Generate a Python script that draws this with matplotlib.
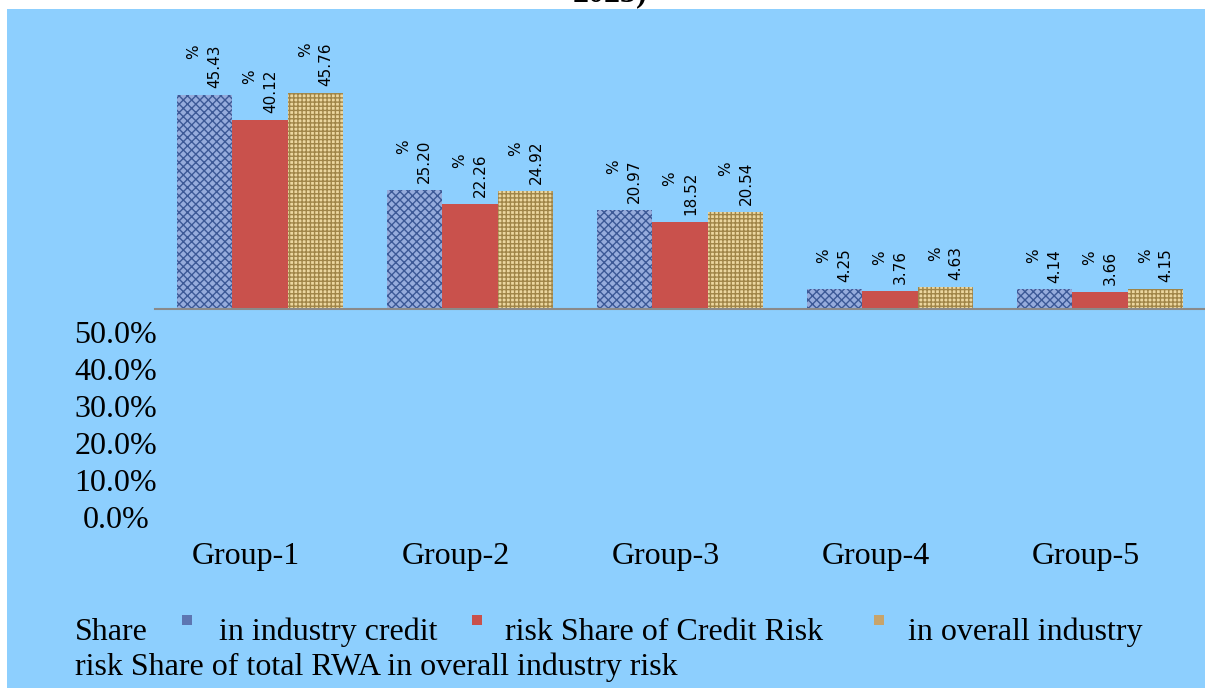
import matplotlib
matplotlib.use("Agg")
import matplotlib.pyplot as plt
import numpy as np
from matplotlib.patches import Rectangle

# data
groups = ["Group-1", "Group-2", "Group-3", "Group-4", "Group-5"]
credit_share = [45.43, 25.20, 20.97, 4.25, 4.14]
credit_risk_share = [40.12, 22.26, 18.52, 3.76, 3.66]
rwa_share = [45.76, 24.92, 20.54, 4.63, 4.15]
axis_labels = ["50.0%", "40.0%", "30.0%", "20.0%", "10.0%", "0.0%"]

W, H = 1205, 688
BG = "#8dcffe"
SERIF = "Liberation Serif"
FS = 23


def px(x, y):
    """pixel (from top-left) -> figure fraction"""
    return x / W, 1 - y / H


plt.rcParams["hatch.linewidth"] = 1.0

fig = plt.figure(figsize=(W / 100, H / 100), dpi=100, facecolor="white")
fig.patches.append(Rectangle((7 / W, 0), 1, (H - 9) / H, transform=fig.transFigure,
                             facecolor=BG, edgecolor="none", zorder=-5))

# cut off title at top
fig.text(*px(610, 1), "2023)", ha="center", va="baseline", fontsize=23,
         fontweight="bold", family=SERIF, color="black")

ax = fig.add_axes([155 / W, 1 - 309 / H, (W - 155) / W, 300 / H])
ax.set_zorder(2)
ax.patch.set_visible(False)
for side in ["top", "right", "left"]:
    ax.spines[side].set_visible(False)
ax.spines["bottom"].set_color("#8a8a8a")
ax.spines["bottom"].set_linewidth(1.5)
ax.set_xlim(-0.5, 4.5)
ax.set_ylim(0, 300 / 4.72)
ax.set_xticks([])
ax.set_yticks([])

x = np.arange(len(groups))
bw = 0.265
series = [
    (credit_share, -bw, dict(color="#96acdc", hatch="xxxx", edgecolor="#3c5996")),
    (credit_risk_share, 0, dict(color="#c9514c", edgecolor="#c9514c")),
    (rwa_share, bw, dict(color="#ecd7a0", hatch="++++", edgecolor="#a08548")),
]
for vals, off, style in series:
    face = style.pop("color")
    ax.bar(x + off, vals, width=bw, facecolor=face, linewidth=0, zorder=2, **style)
    for xi, v in zip(x + off, vals):
        ax.annotate(f"%\n{v:.2f}", (xi, v), xytext=(0, 5), textcoords="offset points",
                    rotation=90, ha="center", va="bottom", multialignment="right",
                    linespacing=1.5, fontsize=11, family="DejaVu Sans", color="black",
                    annotation_clip=False)

# group labels
for i, g in enumerate(groups):
    gx = ax.transData.transform((i, 0))[0] - 14
    fig.text(gx / W, 1 - 564 / H, g, ha="center", va="baseline",
             fontsize=FS, family=SERIF)

# misplaced axis labels
for k, lab in enumerate(axis_labels):
    fig.text(*px(116, 343 + 37 * k), lab, ha="center", va="baseline",
             fontsize=FS, family=SERIF)

# legend
legend_items = [
    (75, "Share", None),
    (219, "in industry credit", "#5d76b2"),
    (505, "risk Share of Credit Risk", "#c9514c"),
    (908, "in overall industry", "#c8a46a"),
]
marker_x = {"#5d76b2": 182, "#c9514c": 472, "#c8a46a": 874}
for tx, txt, mcol in legend_items:
    fig.text(*px(tx, 640), txt, ha="left", va="baseline", fontsize=FS, family=SERIF)
    if mcol:
        mx = marker_x[mcol]
        fig.patches.append(Rectangle(px(mx, 625), 10 / W, 10 / H,
                                     transform=fig.transFigure,
                                     facecolor=mcol, edgecolor="none", zorder=3))
fig.text(*px(75, 675), "risk Share of total RWA in overall industry risk",
         ha="left", va="baseline", fontsize=FS, family=SERIF)

fig.savefig("out.png", dpi=100, facecolor=fig.get_facecolor())
